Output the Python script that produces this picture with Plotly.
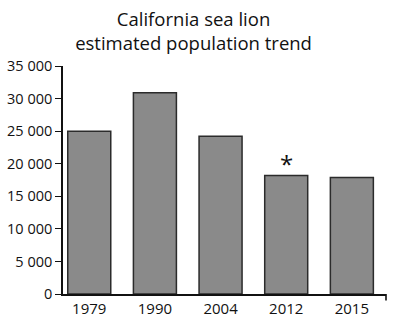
import plotly.graph_objects as go

# Estimated California sea lion population by survey year
years = ["1979", "1990", "2004", "2012", "2015"]
population = [25000, 30900, 24200, 18200, 17900]
y_ticks = [0, 5000, 10000, 15000, 20000, 25000, 30000, 35000]
flagged_year = "2012"

FONT = "Open Sans, Liberation Sans, sans-serif"

fig = go.Figure(
    go.Bar(
        x=years,
        y=population,
        width=0.655,
        marker=dict(color="#8a8a8a", line=dict(color="#2b2b2b", width=1.5)),
        hoverinfo="x+y",
    )
)

# Asterisk note over the 2012 estimate (category axis: place by index)
flag_idx = years.index(flagged_year)
fig.add_annotation(
    x=flag_idx,
    y=population[flag_idx],
    text="*",
    showarrow=False,
    yanchor="bottom",
    yshift=-7,
    font=dict(family=FONT, size=24, color="#111"),
)

# Small downward tick closing the right end of the x axis
fig.add_shape(
    type="line",
    xref="x domain", yref="y domain",
    x0=1, x1=1, y0=0, y1=-0.028,
    line=dict(color="#111", width=1.6),
)

fig.update_layout(
    width=395,
    height=323,
    margin=dict(l=63, r=9, t=66, b=29),
    paper_bgcolor="white",
    plot_bgcolor="white",
    separators=". ",
    showlegend=False,
    font=dict(family=FONT, size=14.5, color="#111"),
    title=dict(
        text="California sea lion<br>estimated population trend",
        x=0.49, xanchor="center",
        yref="container", y=0.92, yanchor="middle",
        font=dict(family=FONT, size=18.5, color="#111"),
    ),
    xaxis=dict(
        type="category",
        range=[-0.4, 4.52],
        showline=True,
        linecolor="#111",
        linewidth=1.6,
        ticks="",
        showgrid=False,
        zeroline=False,
        tickfont=dict(size=15),
        automargin=False,
        fixedrange=True,
    ),
    yaxis=dict(
        range=[0, 35000],
        tickvals=y_ticks,
        tickformat=",d",
        showline=True,
        linecolor="#111",
        linewidth=1.6,
        ticks="outside",
        ticklen=6,
        tickwidth=1.4,
        tickcolor="#111",
        showgrid=False,
        zeroline=False,
        tickfont=dict(size=14.5),
        automargin=False,
        fixedrange=True,
    ),
)

fig.write_html("out.html")
